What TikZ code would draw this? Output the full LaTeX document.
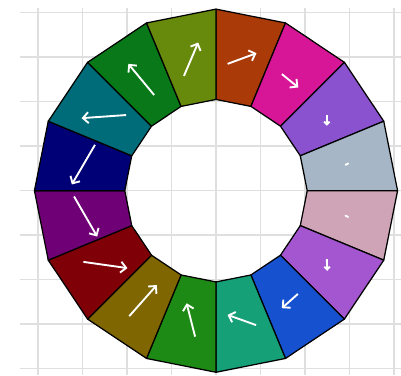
\documentclass[tikz,border=0pt]{standalone}
\usepackage{tikz}
\usetikzlibrary{arrows.meta}
\usetikzlibrary{calc}

\definecolor{rust}{RGB}{170,58,8}
\definecolor{magentacell}{RGB}{214,22,150}
\definecolor{violetcell}{RGB}{138,82,206}
\definecolor{steelcell}{RGB}{166,182,198}
\definecolor{mauvecell}{RGB}{206,164,182}
\definecolor{lavendercell}{RGB}{164,86,208}
\definecolor{bluecell}{RGB}{22,82,208}
\definecolor{tealgreen}{RGB}{22,160,120}
\definecolor{greencell}{RGB}{30,138,22}
\definecolor{olivebrown}{RGB}{128,102,0}
\definecolor{darkred}{RGB}{128,0,8}
\definecolor{purplecell}{RGB}{112,0,118}
\definecolor{navycell}{RGB}{0,0,118}
\definecolor{tealcell}{RGB}{0,108,122}
\definecolor{deepgreen}{RGB}{8,120,24}
\definecolor{olivegreen}{RGB}{104,138,12}

\tikzset{
gridline/.style = {line width=1pt, color=gray!25},
cellrim/.style = {draw=black, line width=0.8pt, line join=round},
flowarrow/.style = {white, line width=1.2pt,
                    -{Straight Barb[length=#1*3.5pt,width=#1*7pt]}},
flowarrow/.default = 1, % head scale
flowdash/.style = {white, line width=1.2pt, line cap=round}
}
\newcommand{\ringin}{2.05}
\newcommand{\ringout}{4.08}
% one cell of the ring: colour, start angle, end angle
\newcommand{\cell}[3]{\fill[#1, cellrim] (#2:\ringin) -- (#2:\ringout) -- (#3:\ringout) -- (#3:\ringin) -- cycle;}
\newcommand{\flow}[2]{\draw[flowarrow] (#1) -- (#2);}
\newcommand{\smallflow}[2]{\draw[flowarrow=0.5] (#1) -- (#2);}
\newcommand{\stub}[2]{\draw[flowdash] (#1) -- (#2);}

\begin{document}
\begin{tikzpicture}
    \useasboundingbox (-4.854,-4.142) rectangle (4.157,4.285);
    \draw[gridline] (-4.4,-4.14) grid (4.16,4.1);

    \cell{rust}{90}{67.5};
    \cell{magentacell}{67.5}{45};
    \cell{violetcell}{45}{22.5};
    \cell{steelcell}{22.5}{0};
    \cell{mauvecell}{0}{-22.5};
    \cell{lavendercell}{-22.5}{-45};
    \cell{bluecell}{-45}{-67.5};
    \cell{tealgreen}{-67.5}{-90};
    \cell{greencell}{-90}{-112.5};
    \cell{olivebrown}{-112.5}{-135};
    \cell{darkred}{-135}{-157.5};
    \cell{purplecell}{-157.5}{-180};
    \cell{navycell}{180}{157.5};
    \cell{tealcell}{157.5}{135};
    \cell{deepgreen}{135}{112.5};
    \cell{olivegreen}{112.5}{90};

    \flow{0.26,2.85}{0.91,3.09};
    \flow{1.48,2.62}{1.85,2.32};
    \smallflow{2.49,1.70}{2.49,1.46};
    \stub{2.91,0.58}{2.97,0.61};
    \stub{2.91,-0.56}{2.97,-0.59};
    \smallflow{2.49,-1.54}{2.50,-1.80};
    \flow{1.84,-2.32}{1.48,-2.64};
    \flow{0.90,-3.02}{0.26,-2.79};
    \flow{-0.47,-3.28}{-0.66,-2.53};
    \flow{-1.95,-2.82}{-1.33,-2.12};
    \flow{-2.98,-1.60}{-1.99,-1.74};
    \flow{-3.19,-0.13}{-2.67,-1.03};
    \flow{-2.72,1.03}{-3.24,0.14};
    \flow{-2.02,1.70}{-3.02,1.63};
    \flow{-1.39,2.15}{-1.97,2.85};
    \flow{-0.72,2.58}{-0.40,3.33};
\end{tikzpicture}
\end{document}
